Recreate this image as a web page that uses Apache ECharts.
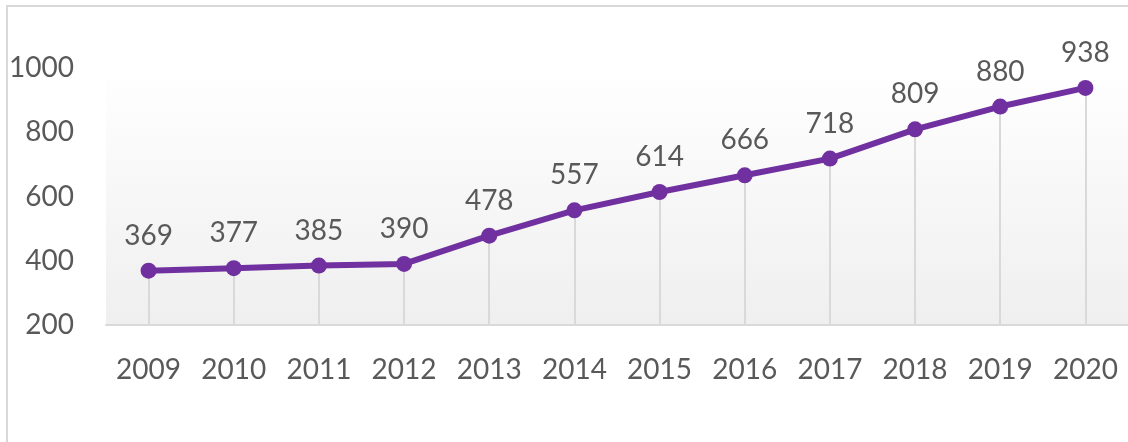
<!DOCTYPE html>
<html>
<head>
<meta charset="utf-8">
<style>
  html, body { margin: 0; padding: 0; background: #fff; }
  #main { width: 1128px; height: 442px; }
</style>
<script src="https://cdn.jsdelivr.net/npm/echarts@6/dist/echarts.min.js"></script>
</head>
<body>
<div id="main"></div>
<script>
var years = ['2009', '2010', '2011', '2012', '2013', '2014', '2015', '2016', '2017', '2018', '2019', '2020'];
var values = [369, 377, 385, 390, 478, 557, 614, 666, 718, 809, 880, 938];
var yTicks = [200, 400, 600, 800, 1000];

var chart = echarts.init(document.getElementById('main'));

// thin grey drop line from each point down to the x axis
var dropLines = values.map(function (v, i) {
    return [{ coord: [i, yTicks[0]] }, { coord: [i, v] }];
});

var option = {
    backgroundColor: '#fff',
    textStyle: { fontFamily: 'Lato' },
    graphic: [{
        type: 'rect',
        shape: { x: 7, y: 6, width: 1300, height: 600 },
        style: { fill: 'none', stroke: '#d9d9d9', lineWidth: 2 },
        silent: true
    }],
    grid: {
        left: 106,
        right: 0,
        top: 68,
        bottom: 117,
        show: true,
        borderWidth: 0,
        backgroundColor: new echarts.graphic.LinearGradient(0, 0, 0, 1, [
            { offset: 0, color: '#ffffff' },
            { offset: 1, color: '#efefef' }
        ])
    },
    xAxis: {
        type: 'category',
        data: years,
        boundaryGap: true,
        axisLine: { lineStyle: { color: '#d9d9d9', width: 2 } },
        axisTick: { show: false },
        axisLabel: { color: '#595959', fontSize: 28, margin: 31, fontFamily: 'Lato' },
        splitLine: { show: false }
    },
    yAxis: {
        type: 'value',
        min: yTicks[0],
        max: yTicks[yTicks.length - 1],
        interval: 200,
        axisLine: { show: false },
        axisTick: { show: false },
        splitLine: { show: false },
        axisLabel: {
            color: '#595959',
            fontSize: 28,
            margin: 32,
            fontFamily: 'Lato',
            formatter: function (v) { return String(v); }
        }
    },
    series: [{
        type: 'line',
        data: values,
        symbol: 'circle',
        symbolSize: 16,
        lineStyle: { color: '#7030a0', width: 6 },
        itemStyle: { color: '#7030a0' },
        label: {
            show: true,
            position: 'top',
            distance: 13,
            color: '#595959',
            fontSize: 28,
            fontFamily: 'Lato'
        },
        markLine: {
            silent: true,
            symbol: 'none',
            label: { show: false },
            lineStyle: { color: '#d9d9d9', width: 2, type: 'solid' },
            z: 1,
            data: dropLines
        },
        z: 3
    }]
};

chart.setOption(option);
</script>
</body>
</html>
